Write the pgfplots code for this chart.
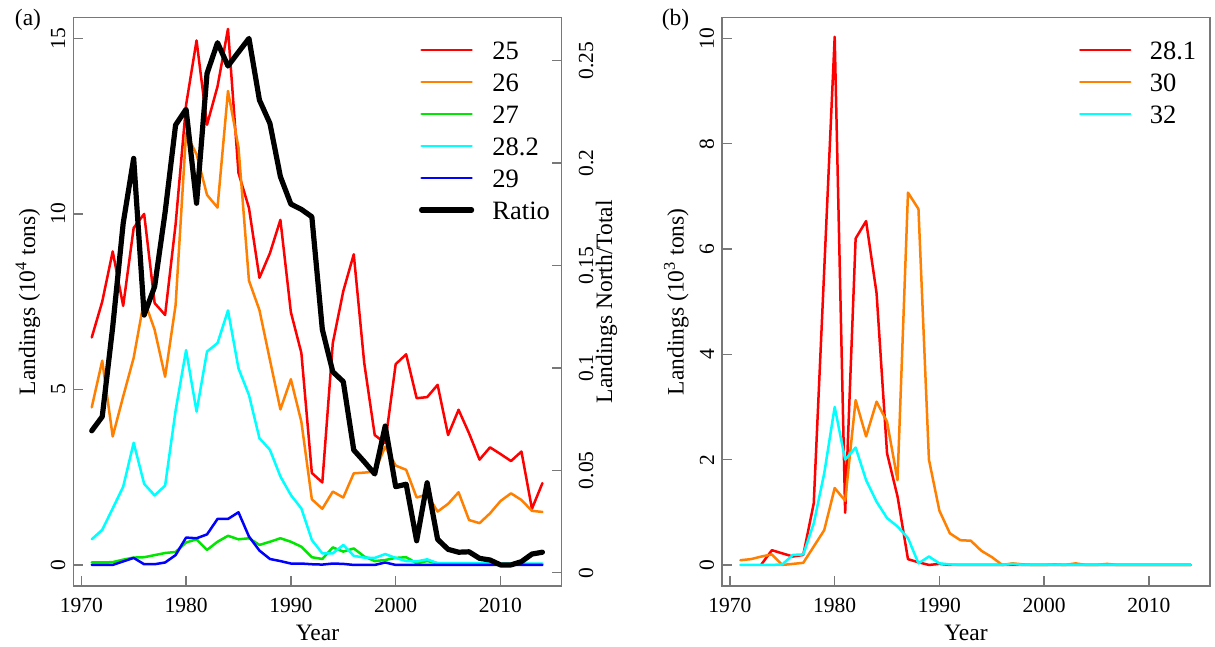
\documentclass[border=0pt]{standalone}
\usepackage{pgfplots}
\pgfplotsset{compat=1.18}
\usepackage{pgfplotstable}
\usepackage{fontspec}
\setmainfont{Liberation Serif}

\definecolor{rred}{RGB}{255,0,0}
\definecolor{rorange}{RGB}{255,127,0}
\definecolor{rgreen}{RGB}{0,230,0}
\definecolor{rcyan}{RGB}{0,255,255}
\definecolor{rblue}{RGB}{0,0,255}
\definecolor{axgray}{RGB}{120,120,120}

\newcommand{\tickfont}{\fontsize{10.75}{12}\selectfont}
\newcommand{\labfont}{\fontsize{11.75}{14}\selectfont}
\newcommand{\legfont}{\fontsize{13.25}{15}\selectfont}

% year, areas 25 26 27 28.2 29 (10^4 t), ratio north/total
\pgfplotstableread{
yr   a25   a26   a27  a282  a29  ratio
1971 6.48  4.49  0.07 0.73  0.00 0.0693
1972 7.50  5.82  0.07 1.00  0.00 0.0762
1973 8.93  3.66  0.08 1.61  0.00 0.1200
1974 7.38  4.80  0.15 2.23  0.10 0.1706
1975 9.60  5.90  0.21 3.48  0.20 0.2023
1976 10.00 7.55  0.22 2.31  0.02 0.1258
1977 7.46  6.70  0.28 1.98  0.02 0.1397
1978 7.12  5.36  0.34 2.26  0.07 0.1760
1979 9.70  7.40  0.37 4.40  0.28 0.2186
1980 13.10 12.30 0.64 6.12  0.78 0.2263
1981 14.94 11.70 0.73 4.37  0.76 0.1804
1982 12.54 10.54 0.43 6.08  0.87 0.2438
1983 13.63 10.18 0.66 6.32  1.31 0.2588
1984 15.27 13.50 0.83 7.25  1.31 0.2474
1985 11.17 11.90 0.73 5.60  1.50 0.2542
1986 10.17 8.10  0.76 4.84  0.81 0.2609
1987 8.18  7.26  0.57 3.61  0.41 0.2308
1988 8.88  5.84  0.66 3.28  0.17 0.2194
1989 9.83  4.43  0.76 2.52  0.11 0.1934
1990 7.20  5.29  0.66 1.99  0.04 0.1800
1991 6.04  4.08  0.52 1.61  0.04 0.1774
1992 2.62  1.87  0.22 0.71  0.02 0.1738
1993 2.35  1.60  0.17 0.33  0.01 0.1188
1994 6.32  2.09  0.50 0.33  0.04 0.0981
1995 7.80  1.92  0.38 0.57  0.03 0.0933
1996 8.85  2.61  0.47 0.26  0.00 0.0599
1997 5.75  2.63  0.24 0.21  0.00 0.0542
1998 3.70  2.66  0.11 0.20  0.00 0.0482
1999 3.47  3.37  0.14 0.31  0.07 0.0716
2000 5.72  2.83  0.20 0.20  0.00 0.0420
2001 6.00  2.71  0.22 0.11  0.00 0.0432
2002 4.75  1.92  0.05 0.10  0.00 0.0156
2003 4.78  2.01  0.11 0.16  0.00 0.0439
2004 5.13  1.52  0.05 0.05  0.00 0.0163
2005 3.70  1.74  0.03 0.05  0.00 0.0114
2006 4.42  2.07  0.03 0.05  0.00 0.0100
2007 3.75  1.28  0.03 0.05  0.00 0.0102
2008 3.00  1.19  0.03 0.05  0.00 0.0070
2009 3.35  1.47  0.03 0.04  0.00 0.0062
2010 3.16  1.82  0.02 0.04  0.00 0.0038
2011 2.96  2.04  0.02 0.04  0.00 0.0038
2012 3.23  1.85  0.02 0.04  0.00 0.0054
2013 1.60  1.54  0.02 0.04  0.00 0.0091
2014 2.33  1.51  0.02 0.04  0.00 0.0100
}\north

% areas 30 and 32 (10^3 t)
\pgfplotstableread{
yr   a30   a32
1971 0.09  0.00
1972 0.11  0.00
1973 0.16  0.00
1974 0.20  0.00
1975 0.00  0.01
1976 0.02  0.19
1977 0.04  0.20
1978 0.35  0.79
1979 0.66  1.74
1980 1.46  3.00
1981 1.22  2.00
1982 3.13  2.23
1983 2.44  1.61
1984 3.10  1.20
1985 2.72  0.89
1986 1.61  0.73
1987 7.07  0.51
1988 6.76  0.03
1989 2.00  0.16
1990 1.03  0.03
1991 0.60  0.01
1992 0.47  0.00
1993 0.46  0.00
1994 0.27  0.00
1995 0.15  0.00
1996 0.00  0.00
1997 0.03  0.02
1998 0.01  0.00
1999 0.00  0.00
2000 0.00  0.00
2001 0.01  0.00
2002 0.00  0.00
2003 0.03  0.00
2004 0.00  0.00
2005 0.00  0.00
2006 0.02  0.00
2007 0.00  0.00
2008 0.00  0.00
2009 0.00  0.00
2010 0.00  0.00
2011 0.00  0.00
2012 0.00  0.00
2013 0.00  0.00
2014 0.00  0.00
}\south

% area 28.1 (10^3 t), reported from 1973
\pgfplotstableread{
yr   a281
1973 0.01
1974 0.28
1975 0.22
1976 0.16
1977 0.19
1978 1.17
1979 5.60
1980 10.03
1981 0.99
1982 6.20
1983 6.53
1984 5.16
1985 2.12
1986 1.30
1987 0.11
1988 0.05
1989 0.00
1990 0.02
1991 0.00
1995 0.00
2000 0.00
2005 0.00
2010 0.00
2014 0.00
}\southb

\pgfplotsset{
  rbase/.style={
    scale only axis, height=284.35pt,
    xmin=1969.24, xmax=2015.84,
    axis line style={axgray, line width=0.65pt},
    every tick/.style={axgray, line width=0.65pt},
    tick align=inside, major tick length=5pt,
    xtick={1970,1980,1990,2000,2010},
    xticklabels={1970,1980,1990,2000,2010},
    xticklabel style={font=\tickfont, anchor=north, inner sep=0pt, outer sep=0pt, yshift=-6pt},
    yticklabel style={font=\tickfont, rotate=90, anchor=south, inner sep=4pt, outer sep=0pt},
    xtick pos=left, ytick pos=left,
    legend cell align=left,
    legend image code/.code={\draw[##1] (0pt,0pt) -- (25pt,0pt);},
    every axis plot/.append style={line width=1.25pt, line join=round, line cap=round},
  },
  rleg/.style={legend style={at={(#1,0.9583)}, anchor=north west, draw=none, fill=none,
    inner sep=0pt, outer sep=0pt, row sep=7pt, column sep=9.15pt, font=\legfont,
    nodes={inner sep=0pt, outer sep=0pt, text height=9pt, text depth=0pt}}},
}

\begin{document}
\begin{tikzpicture}
\path[use as bounding box] (0pt,0pt) rectangle (607.5pt,-323.5pt);

% ---- panel (a)
\begin{axis}[rbase, rleg=0.7078,
  at={(36.65pt,-293pt)}, anchor=south west, width=244.2pt,
  ymin=-0.6, ymax=15.6,
  ytick={0,5,10,15}, yticklabels={0,5,10,15},
]
\addplot[rred] table[x=yr, y=a25] {\north};
\addlegendentry{25}
\addplot[rorange] table[x=yr, y=a26] {\north};
\addlegendentry{26}
\addplot[rgreen] table[x=yr, y=a27] {\north};
\addlegendentry{27}
\addplot[rcyan] table[x=yr, y=a282] {\north};
\addlegendentry{28.2}
\addplot[rblue] table[x=yr, y=a29] {\north};
\addlegendentry{29}
\addlegendimage{black, line width=2.6pt}
\addlegendentry{Ratio}
\end{axis}

\begin{axis}[rbase,
  at={(36.65pt,-293pt)}, anchor=south west, width=244.2pt,
  ymin=-0.0065, ymax=0.2712,
  axis x line=none, axis y line*=right,
  ytick={0,0.05,0.1,0.15,0.2,0.25},
  yticklabels={0,0.05,0.1,0.15,0.2,0.25},
  ytick pos=right,
  yticklabel style={anchor=north, inner sep=8.5pt},
]
\addplot[black, line width=2.6pt] table[x=yr, y=ratio] {\north};
\end{axis}

% ---- panel (b)
\begin{axis}[rbase, rleg=0.7316,
  at={(361pt,-293pt)}, anchor=south west, width=244pt,
  ymin=-0.4, ymax=10.4,
  ytick={0,2,4,6,8,10}, yticklabels={0,2,4,6,8,10},
]
\addplot[rred] table[x=yr, y=a281] {\southb};
\addlegendentry{28.1}
\addplot[rorange] table[x=yr, y=a30] {\south};
\addlegendentry{30}
\addplot[rcyan] table[x=yr, y=a32] {\south};
\addlegendentry{32}
\end{axis}

% ---- labels
\node[rotate=90, anchor=base, font=\labfont] at (17.5pt,-150.85pt) {Landings (10\textsuperscript{4} tons)};
\node[rotate=90, anchor=base, font=\labfont] at (306pt,-150.85pt) {Landings North/Total};
\node[rotate=90, anchor=base, font=\labfont] at (341.8pt,-150.85pt) {Landings (10\textsuperscript{3} tons)};
\node[anchor=base, font=\labfont] at (158.75pt,-320pt) {Year};
\node[anchor=base, font=\labfont] at (483pt,-320pt) {Year};
\node[anchor=base, font=\labfont] at (14pt,-13pt) {(a)};
\node[anchor=base, font=\labfont] at (337.75pt,-13pt) {(b)};
\end{tikzpicture}
\end{document}
